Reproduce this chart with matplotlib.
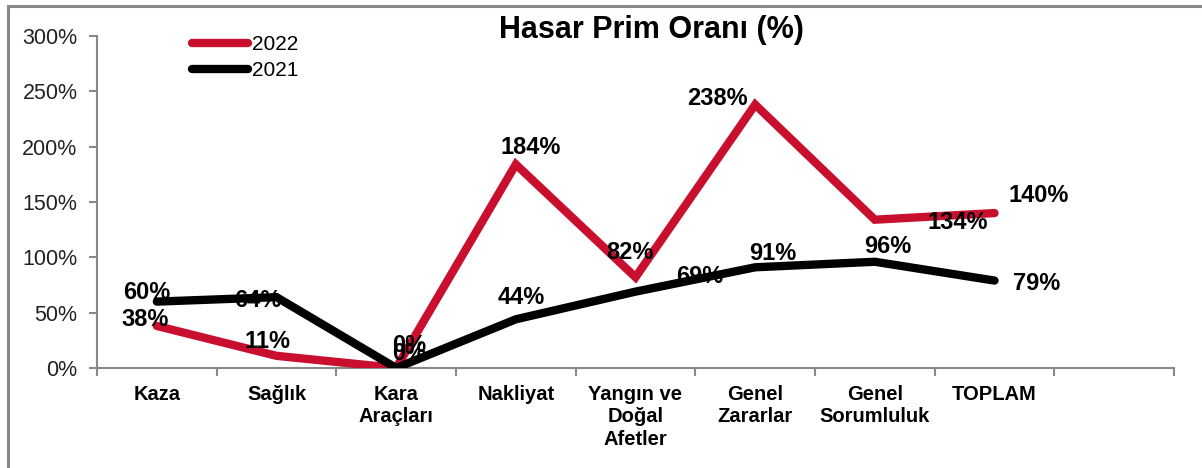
import numpy as np
import matplotlib
matplotlib.use("Agg")
import matplotlib.pyplot as plt
from matplotlib.lines import Line2D
from matplotlib.ticker import PercentFormatter

plt.rcParams['font.family'] = ['Liberation Sans', 'DejaVu Sans']

categories = ["Kaza", "Sağlık", "Kara\nAraçları", "Nakliyat", "Yangın ve\nDoğal\nAfetler",
              "Genel\nZararlar", "Genel\nSorumluluk", "TOPLAM"]
years = ["2022", "2021"]
ratio_2022 = [38, 11, 0, 184, 82, 238, 134, 140]
ratio_2021 = [60, 64, 0, 44, 69, 91, 96, 79]
yticks = [0, 50, 100, 150, 200, 250, 300]

# label offsets in pixels (dx, dy) relative to the point
off_2022 = [(-12, 6), (-9, 14), (13, 23), (15, 17), (-6, 25), (-38, 6), (83, -3), (44, 18)]
off_2021 = [(-10, 9), (-19, -3), (13, 15), (5, 22), (64, 15), (18, 14), (13, 15), (42, -3)]

red = "#C8102E"
grey = "#888888"

fig = plt.figure(figsize=(12.02, 4.68), dpi=100)
ax = fig.add_axes([97/1202, 1-368/468, (1174-97)/1202, (368-36)/468])

x = np.arange(len(categories))
l22, = ax.plot(x, ratio_2022, color=red, lw=6, solid_capstyle="round",
               solid_joinstyle="miter", zorder=3)
l21, = ax.plot(x, ratio_2021, color="black", lw=6, solid_capstyle="round",
               solid_joinstyle="miter", zorder=4)

for vals, offs in ((ratio_2022, off_2022), (ratio_2021, off_2021)):
    for xi, v, (dx, dy) in zip(x, vals, offs):
        ax.annotate(f"{v}%", (xi, v), xytext=(dx*0.72, dy*0.72), textcoords="offset points",
                    ha="center", va="center", fontsize=17, fontweight="bold",
                    color="black", zorder=6)

ax.set_xlim(-0.5, len(categories) + 0.5)
ax.set_ylim(0, 300)
ax.set_yticks(yticks)
ax.yaxis.set_major_formatter(PercentFormatter(decimals=0))
ax.set_xticks(np.arange(len(categories) + 2) - 0.5, minor=False)
ax.set_xticklabels([])
ax.set_xticks(x, minor=True)
ax.set_xticklabels(categories, minor=True, fontsize=14.5, fontweight="bold", linespacing=1.25)
ax.tick_params(axis="x", which="minor", length=0, pad=12)
ax.tick_params(axis="x", which="major", length=6, width=1.5, color=grey)
ax.tick_params(axis="y", length=6, width=1.5, color=grey, labelsize=15.5,
               labelcolor="#222222", pad=8)
for s in ("top", "right"):
    ax.spines[s].set_visible(False)
for s in ("left", "bottom"):
    ax.spines[s].set_color(grey)
    ax.spines[s].set_linewidth(1.5)

fig.text(651/1202, 1-30/468, "Hasar Prim Oranı (%)", ha="center", va="center",
         fontsize=22, fontweight="bold")

fig.legend([l22, l21], years, loc="upper left", bbox_to_anchor=(192/1202, 1-35/468),
           frameon=False, fontsize=15, handlelength=2.7, handletextpad=0.2,
           labelspacing=0.35, borderpad=0, borderaxespad=0)

# outer frame (top and left only)
fig.add_artist(Line2D([8/1202, 1], [1-6/468, 1-6/468], color=grey, lw=2.2,
                      transform=fig.transFigure))
fig.add_artist(Line2D([8/1202, 8/1202], [0, 1-6/468], color=grey, lw=2.2,
                      transform=fig.transFigure))

fig.savefig("out.png", dpi=100)
